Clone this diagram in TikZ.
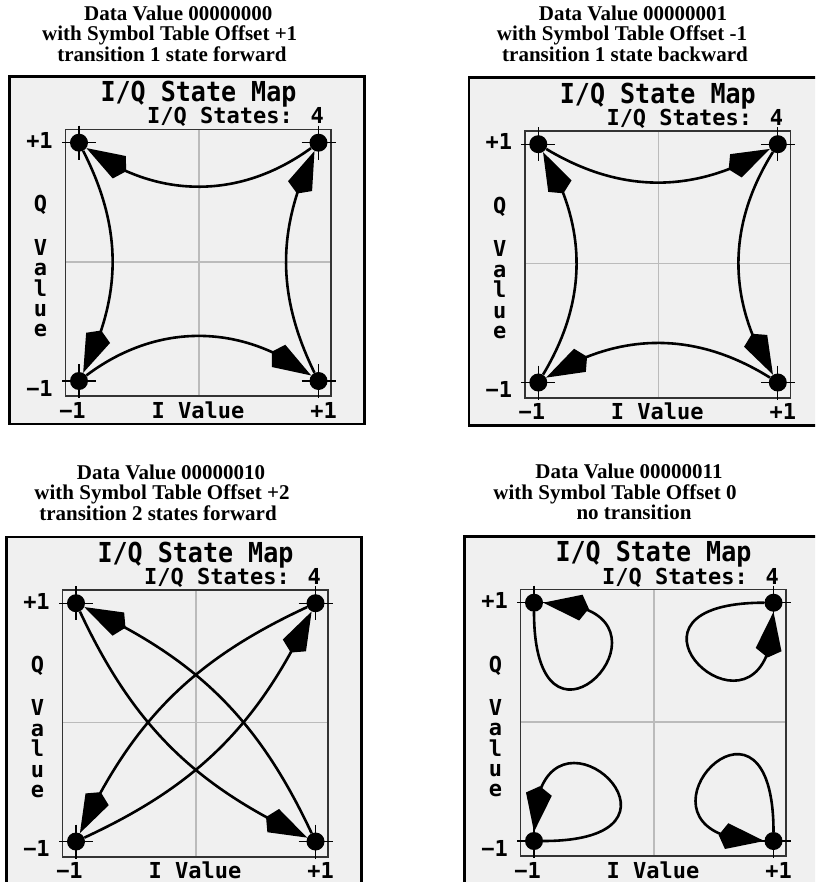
\documentclass[tikz,border=0pt]{standalone}
\usepackage{fontspec}
\setmainfont{Liberation Serif}
\newfontfamily\lcd[FakeStretch=0.91]{DejaVu Sans Mono}
\newfontfamily\lcdn{DejaVu Sans Mono}
\usetikzlibrary{arrows.meta,bending}
\definecolor{scrbg}{HTML}{F0F0F0}
\definecolor{gridc}{HTML}{BBBBBB}
\definecolor{boxc}{HTML}{333333}
\tikzset{
  iqdot/.style={circle,fill=black,inner sep=0pt,minimum size=18pt},
  hdr/.style={font=\bfseries\fontsize{21}{20.5}\selectfont, anchor=base, inner sep=0pt},
  ttl/.style={font=\lcd\bfseries\fontsize{27.5}{27.5}\selectfont, anchor=base, inner sep=0pt},
  lbl/.style={font=\lcdn\bfseries\fontsize{22}{22}\selectfont, anchor=base, inner sep=0pt},
  trarrow/.style={line width=2.6pt, -{Kite[length=46pt,width=26pt,inset=8pt]}},
  crossmark/.style={line width=1.2pt},
  iqframe/.pic={
    \draw[fill=scrbg, line width=2.6pt] (9.7,-76.3) rectangle (364.7,-424);
    \draw[gridc, line width=1.3pt] (199,-129.5) -- (199,-396.2) (65.5,-262) -- (331.2,-262);
    \draw[boxc, line width=1.7pt] (65.5,-129.5) rectangle (331.2,-396.2);
    \foreach \x/\y in {79/142.7, 318.5/142.7, 79/381, 318.5/381} {
      \draw[crossmark] (\x-17,-\y) -- (\x+17,-\y) (\x,-\y+17) -- (\x,-\y-17);
    }
    \node[iqdot] (-tl) at (79,-142.7) {};
    \node[iqdot] (-tr) at (318.5,-142.7) {};
    \node[iqdot] (-bl) at (79,-381) {};
    \node[iqdot] (-br) at (318.5,-381) {};
    \node[ttl] (-title) at (198.5,-101.7) {I/Q State Map};
    \node[lbl, anchor=base east] (-states) at (324,-124) {I/Q States: 4};
    \node[lbl] (-qp) at (39.5,-148.5) {+1};
    \node[lbl] (-qm) at (39.5,-396) {−1};
    \node[lbl] (-q1) at (40.5,-212) {Q};
    \node[lbl] (-q2) at (40.5,-255) {V};
    \node[lbl] (-q3) at (40.5,-275.5) {a};
    \node[lbl] (-q4) at (40.5,-296) {l};
    \node[lbl] (-q5) at (40.5,-316.5) {u};
    \node[lbl] (-q6) at (40.5,-336.5) {e};
    \node[lbl] (-im) at (72.5,-418) {−1};
    \node[lbl] (-iv) at (198,-418) {I Value};
    \node[lbl] (-ip) at (323.5,-418) {+1};
  }
}
\begin{document}
\begin{tikzpicture}[x=1pt,y=1pt]
\path[use as bounding box] (0,0) rectangle (815,-882);
\clip (0,0) rectangle (815,-882);

\pic (p1) at (0,0) {iqframe};
\pic (p2) at (459.3,-1.5) {iqframe};
\pic (p3) at (-3,-460.5) {iqframe};
\pic (p4) at (455,-460) {iqframe};

% headers
\node[hdr] (h1a) at (178.3,-20.7) {Data Value 00000000};
\node[hdr] (h1b) at (169.7,-40.7) {with Symbol Table Offset +1};
\node[hdr] (h1c) at (172,-61.7) {transition 1 state forward};
\node[hdr] (h2a) at (633,-20.7) {Data Value 00000001};
\node[hdr] (h2b) at (622,-40.7) {with Symbol Table Offset -1};
\node[hdr] (h2c) at (625,-61.7) {transition 1 state backward};
\node[hdr] (h3a) at (171,-479) {Data Value 00000010};
\node[hdr] (h3b) at (162,-499.5) {with Symbol Table Offset +2};
\node[hdr] (h3c) at (158,-520) {transition 2 states forward};
\node[hdr] (h4a) at (629,-478.5) {Data Value 00000011};
\node[hdr] (h4b) at (615,-499.3) {with Symbol Table Offset 0};
\node[hdr] (h4c) at (634,-519) {no transition};

% panel 1: one state forward
\draw[trarrow] (p1-tl) to[bend left=27] (p1-bl);
\draw[trarrow] (p1-bl) to[bend left=37] (p1-br);
\draw[trarrow] (p1-br) to[bend left=26] (p1-tr);
\draw[trarrow] (p1-tr) to[bend left=36] (p1-tl);

% panel 2: one state backward
\draw[trarrow] (p2-tl) to[bend right=31] (p2-tr);
\draw[trarrow] (p2-tr) to[bend right=32] (p2-br);
\draw[trarrow] (p2-br) to[bend right=32] (p2-bl);
\draw[trarrow] (p2-bl) to[bend right=31] (p2-tl);

% panel 3: two states forward
\draw[trarrow] (p3-tl) to[bend right=20] (p3-br);
\draw[trarrow] (p3-br) to[bend right=20] (p3-tl);
\draw[trarrow] (p3-bl) to[bend right=20] (p3-tr);
\draw[trarrow] (p3-tr) to[bend right=20] (p3-bl);

% panel 4: no transition
\draw[trarrow] (p4-tl.south) .. controls +(0,-180) and +(160,0) .. (p4-tl.east);
\draw[trarrow] (p4-tr.west) .. controls +(-180,0) and +(0,-160) .. (p4-tr.south);
\draw[trarrow] (p4-bl.east) .. controls +(180,0) and +(0,160) .. (p4-bl.north);
\draw[trarrow] (p4-br.north) .. controls +(0,180) and +(-160,0) .. (p4-br.west);
\end{tikzpicture}
\end{document}
